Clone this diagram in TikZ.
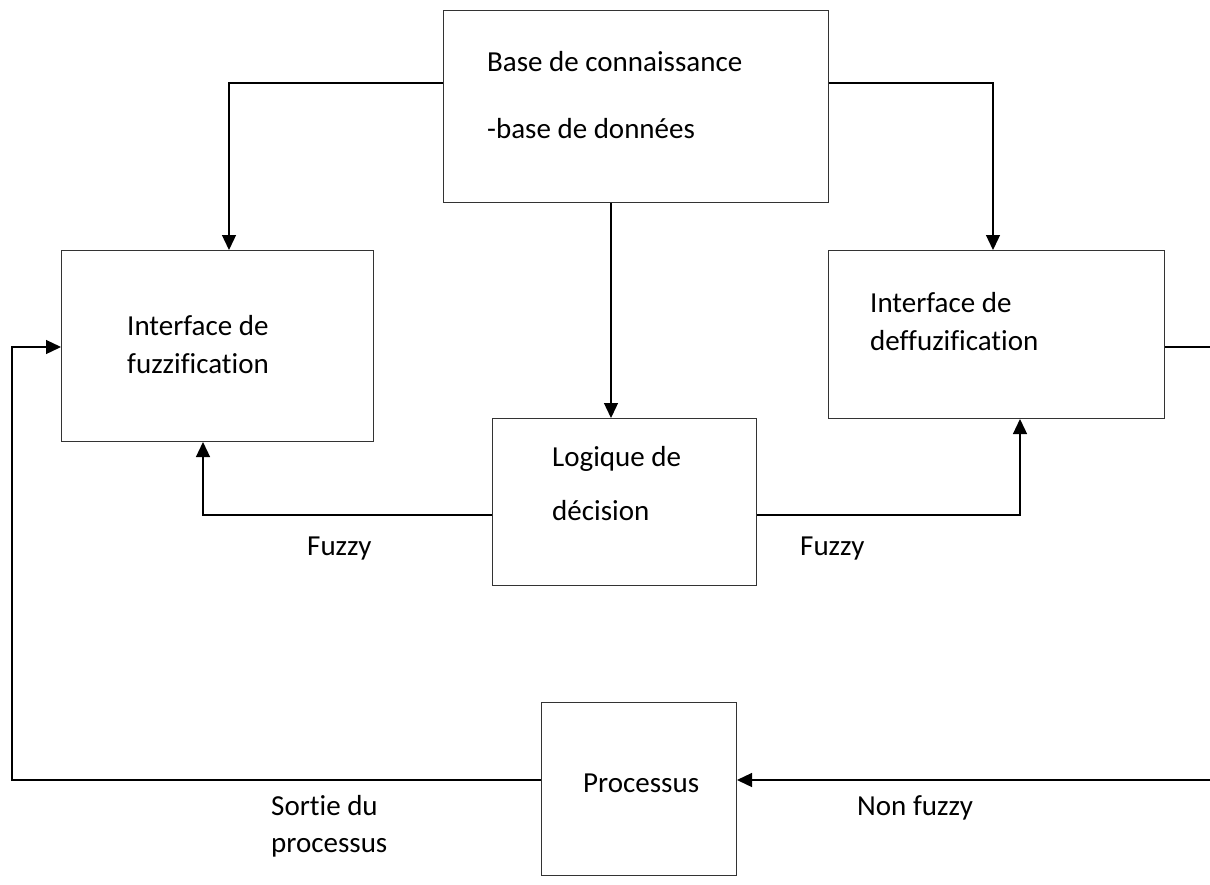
\documentclass[tikz,border=0pt]{standalone}
\usepackage{fontspec}
\setmainfont[Ligatures={NoCommon}]{Carlito}
\usetikzlibrary{arrows.meta}
\begin{document}
\begin{tikzpicture}[x=1pt,y=-1pt,
  box/.style={draw=black!80, line width=1pt, inner sep=0pt},
  lbl/.style={anchor=base west, inner sep=0pt, font=\fontsize{29}{33}\selectfont},
  wire/.style={draw=black, line width=1.3pt},
  arr/.style={wire, -{Triangle[length=15pt,width=14pt]}}]
\useasboundingbox (0,0) rectangle (1210,884);
% boxes (corner to corner)
\node[box, minimum width=385pt, minimum height=192pt, anchor=north west] (base) at (443,10) {};
\node[box, minimum width=312pt, minimum height=191pt, anchor=north west] (fuzz) at (61,250) {};
\node[box, minimum width=336pt, minimum height=168pt, anchor=north west] (defuzz) at (828,250) {};
\node[box, minimum width=264pt, minimum height=167pt, anchor=north west] (logic) at (492,418) {};
\node[box, minimum width=195pt, minimum height=173pt, anchor=north west] (proc) at (541,702) {};
% texts
\node[lbl] (t1) at (487,71) {Base de connaissance};
\node[lbl] (t2) at (487,138) {-base de données};
\node[lbl] (t3) at (127,335) {Interface de};
\node[lbl] (t4) at (127,373) {fuzzification};
\node[lbl] (t5) at (870,312) {Interface de};
\node[lbl] (t6) at (870,350) {deffuzification};
\node[lbl] (t7) at (552,466) {Logique de};
\node[lbl] (t8) at (552,520) {décision};
\node[lbl] (t9) at (307,555) {Fuzzy};
\node[lbl] (t10) at (800,555) {Fuzzy};
\node[lbl] (t11) at (583,792) {Processus};
\node[lbl] (t12) at (271,815) {Sortie du};
\node[lbl] (t13) at (271,852) {processus};
\node[lbl] (t14) at (857,815) {Non fuzzy};
% free ends at the right edge
\coordinate (re1) at (1210,347);
\coordinate (re2) at (1210,780);
\coordinate (le) at (12,780);
% connectors
\draw[arr] (base.west |- 0,83) -| (fuzz.north -| 229,0);
\draw[arr] (base.east |- 0,83) -| (defuzz.north -| 993,0);
\draw[arr] (base.south -| 611,0) -- (logic.north -| 611,0);
\draw[arr] (logic.west |- 0,515) -| (fuzz.south -| 203,0);
\draw[arr] (logic.east |- 0,515) -| (defuzz.south -| 1020,0);
\draw[wire] (defuzz.east |- re1) -- (re1);
\draw[arr] (re2) -- (proc.east |- re2);
\draw[arr] (proc.west |- le) -- (le) |- (fuzz.west |- 0,347);
\end{tikzpicture}
\end{document}
